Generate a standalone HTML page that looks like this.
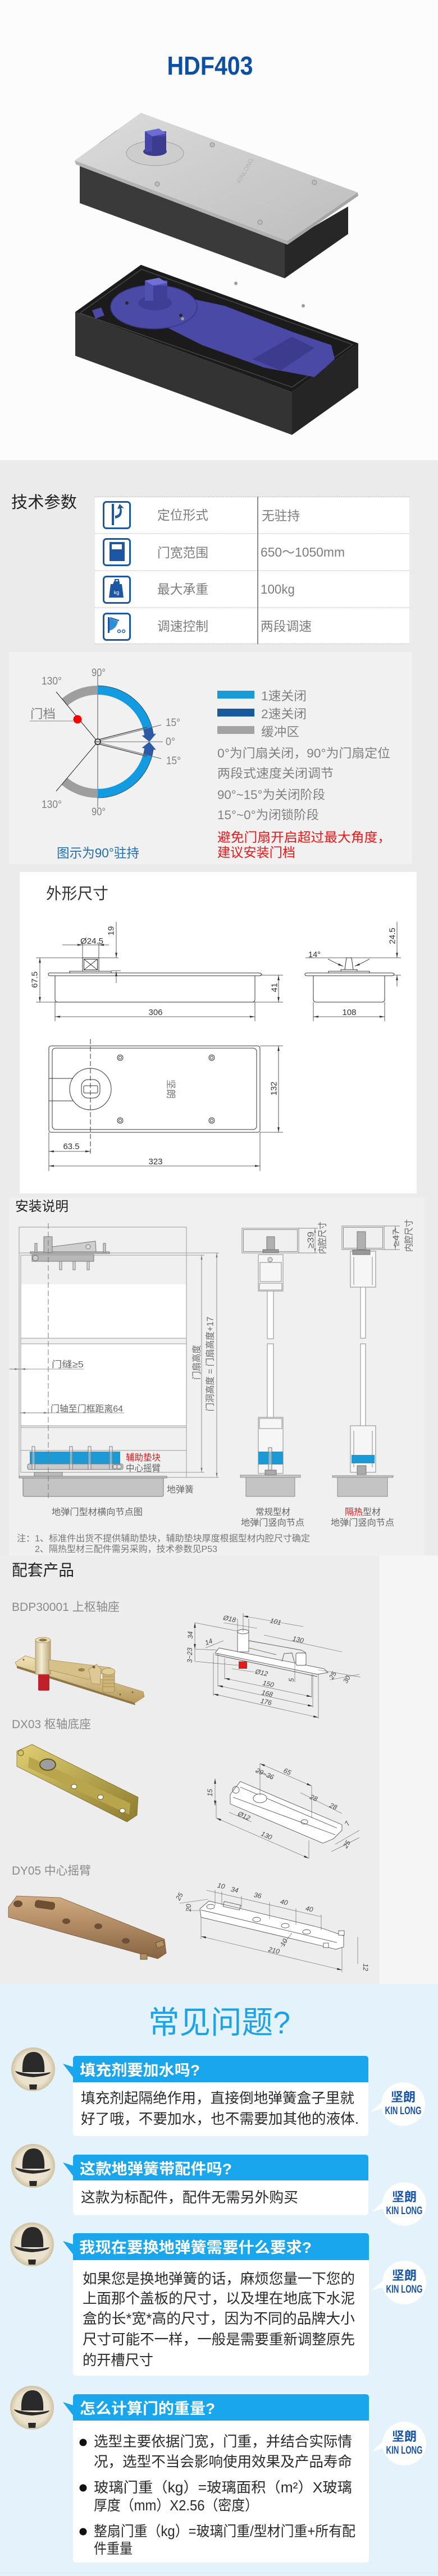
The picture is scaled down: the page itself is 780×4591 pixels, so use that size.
<!DOCTYPE html>
<html><head><meta charset="utf-8">
<style>
html,body{margin:0;padding:0;background:#ebebeb;}
svg{display:block}
text{font-family:"Liberation Sans","Noto Sans CJK SC",sans-serif;}
</style></head><body>
<svg width="780" height="4591" viewBox="0 0 780 4591" xmlns="http://www.w3.org/2000/svg">
<defs>
 <marker id="ar" viewBox="0 0 10 4" refX="10" refY="2" markerWidth="9" markerHeight="3.6" markerUnits="userSpaceOnUse" orient="auto-start-reverse"><path d="M0,0L10,2L0,4Z" fill="#333"/></marker>
 <marker id="ag" viewBox="0 0 10 4" refX="10" refY="2" markerWidth="8" markerHeight="3.2" markerUnits="userSpaceOnUse" orient="auto-start-reverse"><path d="M0,0L10,2L0,4Z" fill="#777"/></marker>
 <linearGradient id="plate" x1="0" y1="0" x2="1" y2="1"><stop offset="0" stop-color="#dcdcdc"/><stop offset="1" stop-color="#bdbdbd"/></linearGradient>
 <linearGradient id="brass" x1="0" y1="0" x2="0" y2="1"><stop offset="0" stop-color="#f1e3b6"/><stop offset="1" stop-color="#b79a5c"/></linearGradient>
 <linearGradient id="cyl" x1="0" y1="0" x2="1" y2="0"><stop offset="0" stop-color="#c9bb8c"/><stop offset="0.4" stop-color="#f2ecd4"/><stop offset="1" stop-color="#b8a574"/></linearGradient>
 <linearGradient id="olive" x1="0" y1="0" x2="1" y2="1"><stop offset="0" stop-color="#e0cf72"/><stop offset="1" stop-color="#8d7c2e"/></linearGradient>
 <linearGradient id="bronze" x1="0" y1="0" x2="0" y2="1"><stop offset="0" stop-color="#d2ac80"/><stop offset="1" stop-color="#876343"/></linearGradient>
 <radialGradient id="face" cx="0.5" cy="0.5" r="0.5"><stop offset="0.75" stop-color="#ebe2cd"/><stop offset="1" stop-color="#cfc2a2"/></radialGradient>
</defs>

<!-- ============ BACKGROUNDS ============ -->
<rect x="0" y="0" width="780" height="820" fill="#fcfcfc"/>
<rect x="0" y="820" width="780" height="2716" fill="#ebebeb"/>
<rect x="16" y="1162" width="718" height="378" fill="#f2f1f2"/>
<rect x="35" y="1554" width="707" height="573" fill="#ffffff"/>
<rect x="16" y="2135" width="740" height="637" fill="#f1f0f1"/>
<rect x="0" y="2772" width="676" height="764" fill="#eeeded"/>
<rect x="676" y="2772" width="104" height="764" fill="#f5f5f5"/>
<rect x="0" y="3536" width="780" height="1055" fill="#e3f2fb"/>

<!-- ============ HEADER ============ -->
<text x="374" y="133" text-anchor="middle" font-size="46" font-weight="bold" fill="#0d4fa2" textLength="153" lengthAdjust="spacingAndGlyphs">HDF403</text>

<!-- top box (lid) -->
<polygon points="142,296 507,434 507,496 142,362" fill="#3a3a3a"/>
<polygon points="507,434 620,368 620,417 507,496" fill="#272727"/>
<polygon points="133,286 512,429 512,436 135,293" fill="#b2b2b2"/>
<polygon points="512,429 637,343 638,349 512,436" fill="#a5a5a5"/>
<polygon points="133,286 251,201 637,343 512,429" fill="url(#plate)"/>
<line x1="177" y1="255" x2="209" y2="232" stroke="#aaa" stroke-width="1"/>
<line x1="177" y1="255" x2="512" y2="380" stroke="#d0d0d0" stroke-width="0.8" opacity="0.5"/>
<ellipse cx="276" cy="273" rx="51" ry="22" fill="#cdcdcd" stroke="#9e9e9e" stroke-width="1"/>
<ellipse cx="276" cy="270" rx="21" ry="8" fill="#3c3c8e"/>
<rect x="258" y="234" width="38" height="36" fill="#4747a6"/>
<polygon points="258,234 283,229 296,238 271,243" fill="#6c6cd2"/>
<rect x="271" y="243" width="25" height="27" fill="#3b3b90"/>
<g fill="#bdbdbd" stroke="#8a8a8a" stroke-width="1">
 <circle cx="378" cy="258" r="4"/><circle cx="280" cy="328" r="4"/><circle cx="560" cy="325" r="4"/><circle cx="463" cy="396" r="4"/>
</g>
<text x="423" y="330" font-size="11" fill="#b0b0b0" transform="rotate(-60 423 325)">KINLONG</text>

<!-- bottom box (open) -->
<polygon points="134,556 520,699 520,775 134,634" fill="#333"/>
<polygon points="520,699 638,612 638,691 520,775" fill="#252525"/>
<polygon points="134,556 251,472 638,612 520,699" fill="#1b1b1b"/>
<polyline points="142,558 252,480 628,614 520,690 142,558" fill="none" stroke="#444" stroke-width="1.5"/>
<polygon points="330,530 400,545 522,592 590,615 596,640 560,672 470,655 360,615 300,585" fill="#4a49a5"/>
<ellipse cx="274" cy="547" rx="77" ry="39" fill="#4b4aa6" stroke="#38378a" stroke-width="1.5"/>
<ellipse cx="276" cy="540" rx="30" ry="13" fill="#3f3e96"/>
<polygon points="164,553 180,548 186,562 170,568" fill="#4a49a5"/>
<rect x="258" y="500" width="40" height="36" fill="#5050b0"/>
<polygon points="258,500 283,495 298,504 273,509" fill="#6f6fd6"/>
<rect x="273" y="509" width="25" height="27" fill="#3f3f98"/>
<polygon points="450,640 520,600 560,620 500,660" fill="#3c3b8e"/>
<g fill="#2a2a2a"><circle cx="226" cy="540" r="3"/><circle cx="322" cy="562" r="3"/></g>
<g fill="#9a9a9a"><circle cx="420" cy="505" r="3"/><circle cx="540" cy="545" r="3"/><circle cx="325" cy="568" r="3"/></g>

<!-- ============ TECH PARAMS ============ -->
<text x="20" y="905" font-size="29" fill="#222" textLength="117" lengthAdjust="spacingAndGlyphs">技术参数</text>
<rect x="169" y="885" width="560" height="263" fill="#fff"/>
<g stroke="#bdbdbd" stroke-width="1" stroke-dasharray="2,1">
 <line x1="169" y1="885.5" x2="729" y2="885.5"/><line x1="169" y1="951" x2="729" y2="951"/>
 <line x1="169" y1="1017" x2="729" y2="1017"/><line x1="169" y1="1083" x2="729" y2="1083"/>
 <line x1="169" y1="1147.5" x2="729" y2="1147.5"/>
</g>
<line x1="459" y1="885" x2="459" y2="1148" stroke="#8a8a8a" stroke-width="2"/>
<g fill="none" stroke="#1c57a5" stroke-width="3">
 <rect x="184.5" y="894.5" width="47" height="47" rx="5"/>
 <rect x="184.5" y="960.5" width="47" height="47" rx="5"/>
 <rect x="184.5" y="1027.5" width="47" height="47" rx="5"/>
 <rect x="184.5" y="1093.5" width="47" height="47" rx="5"/>
</g>
<rect x="199" y="898" width="4" height="38" fill="#1c57a5"/>
<path d="M205,924 Q220,922 216,905 L221,906 L213,898 L209,907 L213,906 Q215,918 205,919Z" fill="#1c57a5"/>
<rect x="195" y="966" width="27" height="34" fill="#1c57a5"/>
<rect x="199" y="970" width="18" height="9" fill="#fff"/>
<path d="M203,1036 h10 v5 h4 l3,24 h-26 l3,-24 h4Z" fill="#1c57a5"/>
<rect x="205" y="1033" width="6" height="5" fill="none" stroke="#1c57a5" stroke-width="2"/>
<text x="207.5" y="1059" text-anchor="middle" font-size="9" fill="#fff">kg</text>
<rect x="192" y="1100" width="3" height="28" fill="#1c57a5"/>
<path d="M195,1102 L210,1107 Q208,1120 195,1124Z" fill="#2f8fd6"/>
<path d="M196,1101 L212,1106" stroke="#1c57a5" stroke-width="2"/>
<circle cx="212" cy="1125" r="2.5" fill="none" stroke="#1c57a5" stroke-width="1.5"/>
<circle cx="220" cy="1125" r="2.5" fill="none" stroke="#1c57a5" stroke-width="1.5"/>
<g font-size="23" fill="#7d7d7d">
 <text x="280" y="926" textLength="91" lengthAdjust="spacingAndGlyphs">定位形式</text>
 <text x="280" y="993" textLength="91" lengthAdjust="spacingAndGlyphs">门宽范围</text>
 <text x="280" y="1058" textLength="91" lengthAdjust="spacingAndGlyphs">最大承重</text>
 <text x="280" y="1124" textLength="91" lengthAdjust="spacingAndGlyphs">调速控制</text>
 <text x="466" y="927" textLength="68" lengthAdjust="spacingAndGlyphs">无驻持</text>
 <text x="464" y="992" textLength="150" lengthAdjust="spacingAndGlyphs">650～1050mm</text>
 <text x="464" y="1058" textLength="61" lengthAdjust="spacingAndGlyphs">100kg</text>
 <text x="464" y="1124" textLength="91" lengthAdjust="spacingAndGlyphs">两段调速</text>
</g>

<!-- ============ ANGLE DIAGRAM ============ -->
<line x1="174" y1="1203" x2="174" y2="1440" stroke="#8c8c8c" stroke-width="1.5"/>
<path d="M174,1222 A100,100 0 0 0 109.7,1245.4 L120,1257.7 A84,84 0 0 1 174,1238Z" fill="#9e9e9e"/>
<path d="M174,1222 A100,100 0 0 1 270.6,1296.1 L255.1,1300.3 A84,84 0 0 0 174,1238Z" fill="#139be2"/>
<path d="M270.6,1296.1 A100,100 0 0 1 273,1308.1 L278,1307.5 L266,1322 L252.5,1311 L257.2,1310.3 A84,84 0 0 0 255.1,1300.3Z" fill="#2b5aa9"/>
<path d="M174,1422 A100,100 0 0 1 109.7,1398.6 L120,1386.3 A84,84 0 0 0 174,1406Z" fill="#9e9e9e"/>
<path d="M174,1422 A100,100 0 0 0 270.6,1347.9 L255.1,1343.7 A84,84 0 0 1 174,1406Z" fill="#139be2"/>
<path d="M270.6,1347.9 A100,100 0 0 0 273,1335.9 L278,1336.5 L266,1322 L252.5,1333 L257.2,1333.7 A84,84 0 0 1 255.1,1343.7Z" fill="#2b5aa9"/>
<path d="M174,1222 A100,100 0 0 1 273,1308" fill="none" stroke="#333" stroke-width="0.8"/>
<path d="M174,1422 A100,100 0 0 0 273,1336" fill="none" stroke="#333" stroke-width="0.8"/>
<line x1="100" y1="1233" x2="174" y2="1322" stroke="#222" stroke-width="1"/>
<line x1="100" y1="1410" x2="174" y2="1322" stroke="#222" stroke-width="1"/>
<line x1="174" y1="1322" x2="290" y2="1322" stroke="#999" stroke-width="1.5"/>
<line x1="174" y1="1321" x2="287" y2="1292" stroke="#666" stroke-width="1"/>
<line x1="176" y1="1318" x2="262" y2="1296" stroke="#555" stroke-width="1.5"/>
<line x1="174" y1="1323" x2="287" y2="1352" stroke="#666" stroke-width="1"/>
<line x1="176" y1="1326" x2="262" y2="1348" stroke="#555" stroke-width="1.5"/>
<circle cx="174" cy="1322" r="5" fill="#ddd" stroke="#222" stroke-width="1.5"/>
<line x1="169" y1="1322" x2="179" y2="1322" stroke="#222" stroke-width="1"/>
<line x1="53" y1="1285" x2="130" y2="1285" stroke="#888" stroke-width="1"/>
<circle cx="138" cy="1282" r="7.5" fill="#f00"/>
<g font-size="19" fill="#808080">
 <text x="163" y="1205" textLength="25" lengthAdjust="spacingAndGlyphs">90°</text>
 <text x="74" y="1220" textLength="36" lengthAdjust="spacingAndGlyphs">130°</text>
 <text x="295" y="1294" textLength="26" lengthAdjust="spacingAndGlyphs">15°</text>
 <text x="295" y="1328" textLength="17" lengthAdjust="spacingAndGlyphs">0°</text>
 <text x="296" y="1362" textLength="26" lengthAdjust="spacingAndGlyphs">15°</text>
 <text x="74" y="1440" textLength="36" lengthAdjust="spacingAndGlyphs">130°</text>
 <text x="163" y="1453" textLength="25" lengthAdjust="spacingAndGlyphs">90°</text>
</g>
<text x="54" y="1280" font-size="22" fill="#808080" textLength="45" lengthAdjust="spacingAndGlyphs">门档</text>
<text x="101" y="1528" font-size="23" fill="#1f6db5" textLength="147" lengthAdjust="spacingAndGlyphs">图示为90°驻持</text>
<rect x="387" y="1231" width="66" height="14" fill="#1b9ad8"/>
<rect x="387" y="1263" width="66" height="14" fill="#1a5a9c"/>
<rect x="387" y="1294" width="66" height="14" fill="#a3a3a3"/>
<g font-size="22" fill="#808080">
 <text x="465" y="1248" textLength="81" lengthAdjust="spacingAndGlyphs">1速关闭</text>
 <text x="465" y="1280" textLength="81" lengthAdjust="spacingAndGlyphs">2速关闭</text>
 <text x="465" y="1312" textLength="68" lengthAdjust="spacingAndGlyphs">缓冲区</text>
 <text x="387" y="1350" textLength="308" lengthAdjust="spacingAndGlyphs">0°为门扇关闭，90°为门扇定位</text>
 <text x="387" y="1386" textLength="207" lengthAdjust="spacingAndGlyphs">两段式速度关闭调节</text>
 <text x="387" y="1424" textLength="192" lengthAdjust="spacingAndGlyphs">90°~15°为关闭阶段</text>
 <text x="387" y="1460" textLength="181" lengthAdjust="spacingAndGlyphs">15°~0°为闭锁阶段</text>
</g>
<text x="387" y="1500" font-size="23" fill="#f01515" textLength="309" lengthAdjust="spacingAndGlyphs">避免门扇开启超过最大角度，</text>
<text x="387" y="1527" font-size="23" fill="#f01515" textLength="139" lengthAdjust="spacingAndGlyphs">建议安装门档</text>

<!-- ============ DIMENSIONS ============ -->
<text x="82" y="1602" font-size="28" fill="#333" textLength="111" lengthAdjust="spacingAndGlyphs">外形尺寸</text>
<g stroke="#333" stroke-width="1" fill="none">
 <path d="M89,1734 H460 Q466,1734 466,1737.5 L463,1739 H89 Q86,1739 86,1736.5 Q86,1734 89,1734Z"/>
 <path d="M98,1739 V1781 Q98,1786 103,1786 H449 Q454,1786 454,1781 V1739"/>
 <rect x="124" y="1731" width="74" height="3"/>
 <rect x="147" y="1707" width="29" height="24"/>
 <rect x="149.5" y="1709.5" width="24" height="19"/>
 <path d="M149.5,1709.5 L173.5,1728.5 M173.5,1709.5 L149.5,1728.5"/>
 <path d="M547,1734 H697 Q702,1734 702,1737 L699,1739 H547 Q543,1739 543,1736.5 Q543,1734 547,1734Z"/>
 <path d="M558,1739 V1781 Q558,1786 563,1786 H680 Q685,1786 685,1781 V1739"/>
 <rect x="585" y="1731" width="73" height="3"/>
 <rect x="607" y="1728" width="29" height="3"/>
 <path d="M614,1728 L617,1707 H626 L629,1728"/>
 <path d="M584,1709 Q596,1716 611,1722" marker-end="url(#ar)"/>
 <path d="M658,1709 Q646,1716 632,1722" marker-end="url(#ar)"/>
 <rect x="87" y="1864" width="376" height="154" rx="4"/>
 <rect x="93" y="1868" width="364" height="145" rx="6"/>
 <path d="M87,1922 H130 M87,1962 H130"/>
 <circle cx="161" cy="1941" r="37"/>
 <rect x="145" y="1924" width="33" height="33" rx="12"/>
 <rect x="149" y="1935" width="25" height="13" rx="2"/>
 <circle cx="214" cy="1885" r="5"/><circle cx="377" cy="1885" r="5"/><circle cx="214" cy="1997" r="5"/><circle cx="377" cy="1997" r="5"/>
 <circle cx="214" cy="1885" r="2.5"/><circle cx="377" cy="1885" r="2.5"/><circle cx="214" cy="1997" r="2.5"/><circle cx="377" cy="1997" r="2.5"/>
</g>
<line x1="161" y1="1852" x2="161" y2="2060" stroke="#333" stroke-width="1" stroke-dasharray="9,4"/>
<g stroke="#333" stroke-width="0.8" fill="none">
 <path d="M64,1707 H211 M198,1730 H215 M64,1786 H504 M463,1738 H504 M98,1786 V1820 M454,1786 V1820 M147,1680 V1707 M176,1680 V1707"/>
 <path d="M544,1707 H714 M700,1738 H714 M558,1786 V1820 M685,1786 V1820"/>
 <path d="M463,1864 H504 M463,2018 H504 M87,2018 V2087 M463,2018 V2087"/>
 <line x1="111" y1="1684" x2="147" y2="1684" marker-end="url(#ar)"/>
 <line x1="194" y1="1684" x2="176" y2="1684" marker-end="url(#ar)"/>
 <line x1="147" y1="1684" x2="176" y2="1684"/>
 <line x1="207" y1="1643" x2="207" y2="1707" marker-end="url(#ar)"/>
 <line x1="207" y1="1752" x2="207" y2="1731" marker-end="url(#ar)"/>
 <line x1="71" y1="1707" x2="71" y2="1786" marker-start="url(#ar)" marker-end="url(#ar)"/>
 <line x1="496" y1="1738" x2="496" y2="1786" marker-start="url(#ar)" marker-end="url(#ar)"/>
 <line x1="98" y1="1812" x2="454" y2="1812" marker-start="url(#ar)" marker-end="url(#ar)"/>
 <line x1="707" y1="1643" x2="707" y2="1707" marker-end="url(#ar)"/>
 <line x1="707" y1="1758" x2="707" y2="1738" marker-end="url(#ar)"/>
 <line x1="558" y1="1812" x2="685" y2="1812" marker-start="url(#ar)" marker-end="url(#ar)"/>
 <line x1="496" y1="1864" x2="496" y2="2018" marker-start="url(#ar)" marker-end="url(#ar)"/>
 <line x1="87" y1="2052" x2="161" y2="2052" marker-start="url(#ar)" marker-end="url(#ar)"/>
 <line x1="87" y1="2078" x2="463" y2="2078" marker-start="url(#ar)" marker-end="url(#ar)"/>
</g>
<g font-size="15" fill="#333">
 <text x="143" y="1682" textLength="41" lengthAdjust="spacingAndGlyphs">Ø24.5</text>
 <text transform="translate(198,1659) rotate(-90)" text-anchor="middle" dominant-baseline="central">19</text>
 <text transform="translate(62,1746) rotate(-90)" text-anchor="middle" dominant-baseline="central">67.5</text>
 <text transform="translate(489,1760) rotate(-90)" text-anchor="middle" dominant-baseline="central">41</text>
 <text x="277" y="1809" text-anchor="middle" textLength="25" lengthAdjust="spacingAndGlyphs">306</text>
 <text x="549" y="1706" textLength="22" lengthAdjust="spacingAndGlyphs">14°</text>
 <text transform="translate(699,1668) rotate(-90)" text-anchor="middle" dominant-baseline="central">24.5</text>
 <text x="622" y="1809" text-anchor="middle" textLength="25" lengthAdjust="spacingAndGlyphs">108</text>
 <text transform="translate(488,1940) rotate(-90)" text-anchor="middle" dominant-baseline="central">132</text>
 <text x="127" y="2048" text-anchor="middle" textLength="29" lengthAdjust="spacingAndGlyphs">63.5</text>
 <text x="277" y="2075" text-anchor="middle" textLength="25" lengthAdjust="spacingAndGlyphs">323</text>
</g>
<text transform="translate(304,1941) rotate(90)" text-anchor="middle" dominant-baseline="central" font-size="17" fill="#777">坚朗</text>

<!-- ============ INSTALL ============ -->
<text x="27" y="2158" font-size="24" fill="#222" textLength="95" lengthAdjust="spacingAndGlyphs">安装说明</text>
<rect x="37" y="2289" width="295" height="96" fill="#fff"/>
<rect x="37" y="2395" width="295" height="146" fill="#fff"/>
<g stroke="#9a9a9a" stroke-width="1" fill="none">
 <rect x="34" y="2187" width="298" height="446"/>
 <line x1="34" y1="2233" x2="390" y2="2233"/>
 <rect x="37" y="2237" width="295" height="387"/>
 <line x1="37" y1="2385" x2="332" y2="2385"/><line x1="37" y1="2395" x2="332" y2="2395"/>
 <line x1="37" y1="2541" x2="332" y2="2541"/><line x1="37" y1="2544" x2="332" y2="2544"/>
 <line x1="37" y1="2585" x2="332" y2="2585"/>
 <line x1="332" y1="2237" x2="364" y2="2237"/><line x1="332" y1="2624" x2="364" y2="2624"/>
 <line x1="332" y1="2633" x2="390" y2="2633"/>
</g>
<g stroke="#777" stroke-width="1">
 <rect x="54" y="2231" width="141" height="3" fill="#b5b5b5"/>
 <rect x="78" y="2204" width="15" height="28" fill="#bdbdbd"/>
 <polygon points="93,2222 170,2212 171,2231 93,2231" fill="#cfcfcf"/>
 <rect x="62" y="2216" width="4" height="16" fill="#ccc"/><rect x="184" y="2216" width="4" height="16" fill="#ccc"/>
 <circle cx="157" cy="2222" r="4" fill="#ddd"/>
 <rect x="57" y="2236" width="110" height="12" fill="#b8b8b8"/>
 <circle cx="63" cy="2242" r="5" fill="#ccc"/>
 <rect x="106" y="2248" width="4" height="15" fill="#ddd"/><rect x="130" y="2248" width="4" height="15" fill="#ddd"/><rect x="155" y="2248" width="4" height="15" fill="#ddd"/>
</g>
<rect x="53" y="2587" width="161" height="22" fill="#1b9ad6"/>
<g stroke="#777" stroke-width="1">
 <rect x="49" y="2609" width="170" height="10" rx="3" fill="#c9c9c9"/>
 <rect x="57" y="2578" width="5" height="41" fill="#eee" fill-opacity="0.4"/><rect x="124" y="2578" width="5" height="41" fill="#eee" fill-opacity="0.4"/>
 <rect x="157" y="2578" width="5" height="41" fill="#eee" fill-opacity="0.4"/><rect x="195" y="2578" width="5" height="41" fill="#eee" fill-opacity="0.4"/>
 <circle cx="205" cy="2614" r="4" fill="#ddd"/><circle cx="212" cy="2614" r="4" fill="#ddd"/>
 <rect x="61" y="2624" width="50" height="7" fill="#bbb"/>
 <rect x="34" y="2631" width="263" height="3" fill="#ccc"/>
 <path d="M41,2634 H291 V2664 Q291,2667 288,2667 H44 Q41,2667 41,2664Z" fill="#c4c4c4"/>
</g>
<line x1="86" y1="2180" x2="86" y2="2675" stroke="#777" stroke-width="1" stroke-dasharray="10,5"/>
<g stroke="#777" stroke-width="0.8" fill="none">
 <line x1="16" y1="2440" x2="149" y2="2440"/>
 <line x1="18" y1="2440" x2="34" y2="2440" marker-end="url(#ag)"/>
 <line x1="50" y1="2440" x2="37" y2="2440" marker-end="url(#ag)"/>
 <line x1="35" y1="2518" x2="221" y2="2518"/>
 <line x1="60" y1="2518" x2="37" y2="2518" marker-end="url(#ag)"/>
 <line x1="60" y1="2518" x2="86" y2="2518" marker-end="url(#ag)"/>
 <line x1="359" y1="2237" x2="359" y2="2624" marker-start="url(#ag)" marker-end="url(#ag)"/>
 <line x1="386" y1="2233" x2="386" y2="2633" marker-start="url(#ag)" marker-end="url(#ag)"/>
</g>
<g font-size="16" fill="#666">
 <text x="92" y="2437" textLength="57" lengthAdjust="spacingAndGlyphs">门缝≥5</text>
 <text x="90" y="2516" textLength="129" lengthAdjust="spacingAndGlyphs">门轴至门框距离64</text>
 <text x="224" y="2622" textLength="62" lengthAdjust="spacingAndGlyphs">中心摇臂</text>
 <text x="297" y="2660" textLength="48" lengthAdjust="spacingAndGlyphs">地弹簧</text>
 <text x="92" y="2700" textLength="162" lengthAdjust="spacingAndGlyphs">地弹门型材横向节点图</text>
 <text transform="translate(351,2428) rotate(-90)" text-anchor="middle" dominant-baseline="central" textLength="62" lengthAdjust="spacingAndGlyphs">门扇高度</text>
 <text transform="translate(375,2431) rotate(-90)" text-anchor="middle" dominant-baseline="central" textLength="169" lengthAdjust="spacingAndGlyphs">门洞高度 = 门扇高度+17</text>
 <text x="455" y="2700" textLength="62" lengthAdjust="spacingAndGlyphs">常规型材</text>
 <text x="429" y="2719" textLength="113" lengthAdjust="spacingAndGlyphs">地弹门竖向节点</text>
 <text x="614" y="2700" textLength="64" lengthAdjust="spacingAndGlyphs"><tspan fill="#f01515">隔热</tspan>型材</text>
 <text x="589" y="2719" textLength="113" lengthAdjust="spacingAndGlyphs">地弹门竖向节点</text>
 <text transform="translate(554,2210) rotate(-90)" text-anchor="middle" dominant-baseline="central" textLength="30" lengthAdjust="spacingAndGlyphs">≥39</text>
 <text transform="translate(575,2206) rotate(-90)" text-anchor="middle" dominant-baseline="central" textLength="58" lengthAdjust="spacingAndGlyphs">内腔尺寸</text>
 <text transform="translate(706,2206) rotate(-90)" text-anchor="middle" dominant-baseline="central" textLength="30" lengthAdjust="spacingAndGlyphs">≥47</text>
 <text transform="translate(729,2202) rotate(-90)" text-anchor="middle" dominant-baseline="central" textLength="58" lengthAdjust="spacingAndGlyphs">内腔尺寸</text>
</g>
<text x="224" y="2603" font-size="16" fill="#f01515" textLength="62" lengthAdjust="spacingAndGlyphs">辅助垫块</text>
<g stroke="#8a8a8a" stroke-width="1" fill="none">
 <rect x="431" y="2189" width="101" height="44"/><rect x="433.5" y="2191.5" width="96" height="39"/>
 <path d="M532,2189 H566 M532,2233 H566"/>
 <rect x="460" y="2236" width="44" height="65" fill="#f6f6f6"/>
 <rect x="463" y="2250" width="38" height="34"/>
 <rect x="462" y="2287" width="40" height="12"/>
 <rect x="476" y="2301" width="11" height="85" fill="#fff"/>
 <rect x="476" y="2395" width="11" height="131" fill="#fff"/>
 <rect x="460" y="2526" width="44" height="100" fill="#f6f6f6"/>
 <rect x="462" y="2528" width="40" height="18"/>
 <rect x="438" y="2633" width="87" height="34" fill="#c4c4c4"/>
 <rect x="428" y="2629" width="107" height="4" fill="#ccc"/>
</g>
<rect x="460" y="2587" width="44" height="23" fill="#1b9ad6"/>
<g stroke="#777" stroke-width="1">
 <rect x="475" y="2204" width="14" height="24" fill="#b0b0b0"/>
 <rect x="468" y="2227" width="28" height="6" fill="#999"/>
 <circle cx="481" cy="2245" r="4" fill="#ddd"/>
 <rect x="478" y="2580" width="6" height="42" fill="#ddd" fill-opacity="0.5"/>
 <rect x="472" y="2620" width="20" height="9" fill="#aaa"/>
</g>
<line x1="561" y1="2189" x2="561" y2="2233" stroke="#777" stroke-width="0.8" marker-start="url(#ag)" marker-end="url(#ag)"/>
<g stroke="#8a8a8a" stroke-width="1" fill="none">
 <rect x="609" y="2185" width="75" height="42"/><rect x="611.5" y="2187.5" width="70" height="37"/>
 <path d="M684,2185 H712 M684,2227 H712"/>
 <rect x="624" y="2230" width="45" height="64" fill="#f6f6f6"/>
 <path d="M630,2240 V2290 M663,2240 V2290"/>
 <rect x="642" y="2294" width="9" height="91" fill="#fff"/>
 <rect x="642" y="2395" width="9" height="146" fill="#fff"/>
 <rect x="624" y="2541" width="45" height="83" fill="#f6f6f6"/>
 <path d="M630,2550 V2615 M663,2550 V2615"/>
 <rect x="601" y="2633" width="89" height="34" fill="#c4c4c4"/>
 <rect x="592" y="2630" width="108" height="3" fill="#ccc"/>
</g>
<rect x="626" y="2593" width="41" height="15" fill="#1b9ad6"/>
<g stroke="#777" stroke-width="1">
 <rect x="636" y="2195" width="15" height="32" fill="#b0b0b0"/>
 <rect x="628" y="2228" width="31" height="8" fill="#999"/>
 <rect x="636" y="2612" width="16" height="16" fill="#aaa"/>
</g>
<line x1="704" y1="2185" x2="704" y2="2227" stroke="#777" stroke-width="0.8" marker-start="url(#ag)" marker-end="url(#ag)"/>
<g font-size="16" fill="#777">
 <text x="30" y="2747" textLength="522" lengthAdjust="spacingAndGlyphs">注：1、标准件出货不提供辅助垫块，辅助垫块厚度根据型材内腔尺寸确定</text>
 <text x="62" y="2766" textLength="325" lengthAdjust="spacingAndGlyphs">2、隔热型材三配件需另采购，技术参数见P53</text>
</g>

<!-- ============ ACCESSORIES ============ -->
<text x="21" y="2808" font-size="28" fill="#222" textLength="111" lengthAdjust="spacingAndGlyphs">配套产品</text>
<g font-size="21" fill="#8a8a8a">
 <text x="21" y="2871" textLength="192" lengthAdjust="spacingAndGlyphs">BDP30001 上枢轴座</text>
 <text x="21" y="3080" textLength="141" lengthAdjust="spacingAndGlyphs">DX03 枢轴底座</text>
 <text x="21" y="3341" textLength="141" lengthAdjust="spacingAndGlyphs">DY05 中心摇臂</text>
</g>
<!-- photo 1 -->
<polygon points="27,2963 45,2951 255,3015 257,3024 240,3035 30,2969" fill="url(#brass)" stroke="#a88d55" stroke-width="0.8"/>
<polygon points="30,2969 240,3035 241,3039 30,2973" fill="#8f7645"/>
<circle cx="42" cy="2958" r="1.5" fill="#7a6238"/><circle cx="236" cy="3016" r="1.5" fill="#7a6238"/><circle cx="214" cy="3020" r="1.5" fill="#7a6238"/>
<rect x="68" y="2984" width="20" height="29" rx="2" fill="#c0202a"/>
<rect x="63" y="2923" width="27" height="61" fill="url(#cyl)" stroke="#a88d55" stroke-width="0.8"/>
<ellipse cx="76.5" cy="2923" rx="13.5" ry="5" fill="#e6dcb6" stroke="#a88d55" stroke-width="0.8"/>
<ellipse cx="76.5" cy="2923" rx="7" ry="2.5" fill="#8f7645"/>
<polygon points="87,2958 197,2972 190,2979 157,2993 87,2976" fill="#d6c188" stroke="#a88d55" stroke-width="0.8"/>
<ellipse cx="145" cy="2976" rx="6" ry="3" fill="#9b834d"/>
<polygon points="158,2975 172,2966 180,2975 178,3002 163,3000" fill="#dcc996" stroke="#a88d55" stroke-width="0.8"/>
<circle cx="167" cy="2971" r="2.5" fill="#7a6238"/>
<rect x="183" y="2980" width="21" height="36" rx="3" fill="#cdb57a" stroke="#9b834d" stroke-width="0.8"/>
<path d="M184,2988 H203 M184,2994 H203 M184,3000 H203 M184,3006 H203" stroke="#9b834d" stroke-width="0.8"/>
<ellipse cx="193" cy="2979" rx="12" ry="6" fill="#e0cc95" stroke="#9b834d" stroke-width="0.8"/>
<!-- photo 2 -->
<polygon points="30,3121 57,3109 246,3203 244,3235 226,3247 30,3148" fill="url(#olive)" stroke="#7d6e2a" stroke-width="0.8"/>
<polygon points="52,3131 232,3214 230,3234 50,3150" fill="#b9a54c"/>
<ellipse cx="85" cy="3145" rx="14" ry="10" fill="#9e9e9e" stroke="#5d5420" stroke-width="2"/>
<ellipse cx="132" cy="3184" rx="5" ry="4" fill="#fff" stroke="#6d6024"/>
<ellipse cx="179" cy="3203" rx="5" ry="4" fill="#fff" stroke="#6d6024"/>
<ellipse cx="218" cy="3227" rx="5" ry="4" fill="#fff" stroke="#6d6024"/>
<circle cx="37" cy="3124" r="5" fill="#d8c36c" stroke="#6d6024"/>
<!-- photo 3 -->
<polygon points="15,3399 30,3379 107,3382 293,3456 296,3481 281,3491 15,3417" fill="url(#bronze)" stroke="#7a5a3a" stroke-width="0.8"/>
<rect x="62" y="3388" width="36" height="14" rx="5" fill="#6e4f33" transform="rotate(8 80 3395)"/>
<ellipse cx="32" cy="3393" rx="8" ry="6" fill="#6e4f33"/>
<ellipse cx="118" cy="3424" rx="7" ry="5" fill="#6e4f33"/>
<ellipse cx="175" cy="3433" rx="7" ry="5" fill="#6e4f33"/>
<ellipse cx="224" cy="3459" rx="7" ry="5" fill="#6e4f33"/>
<rect x="278" y="3460" width="14" height="10" fill="#b09060" stroke="#6e4f33" transform="rotate(-20 285 3465)"/>
<rect x="250" y="3482" width="12" height="10" fill="#b09060" stroke="#6e4f33"/>

<!-- drawing 1 -->
<g stroke="#555" stroke-width="0.9" fill="none">
 <polygon points="383,2946 390,2937 577,2974 584,2981 565,2984" fill="#fff"/>
 <line x1="383" y1="2949" x2="565" y2="2988"/>
 <rect x="423" y="2908" width="20" height="36" fill="#fff"/>
 <ellipse cx="433" cy="2908" rx="10" ry="4" fill="#fff"/>
 <path d="M443,2924 L537,2941 L545,2946 M443,2937 L492,2949"/>
 <path d="M502,2961 L506,2947 L520,2946 L524,2961"/>
 <rect x="527" y="2946" width="18" height="22" rx="3" fill="#fff"/>
</g>
<rect x="425" y="2961" width="15" height="13" fill="#e31b1b"/>
<g stroke="#555" stroke-width="0.6" fill="none">
 <path d="M347,2892 L423,2907 M347,2939 L388,2941 M347,2961 L425,2968 M380,2946 V3022 M388,2946 V3006 M400,2955 V2993 M555,2984 V3026 M557,2984 V3043 M567,2984 V3063 M525,2960 V2998 M423,2885 V2908 M443,2885 V2908 M433,2875 V2908"/>
 <line x1="380" y1="3019" x2="567" y2="3061" marker-start="url(#ar)" marker-end="url(#ar)"/>
 <line x1="388" y1="3004" x2="557" y2="3041" marker-start="url(#ar)" marker-end="url(#ar)"/>
 <line x1="400" y1="2991" x2="555" y2="3024" marker-start="url(#ar)" marker-end="url(#ar)"/>
 <line x1="413" y1="2974" x2="453" y2="2980"/>
 <line x1="470" y1="2914" x2="609" y2="2944"/>
 <line x1="433" y1="2880" x2="540" y2="2899" marker-start="url(#ar)"/>
 <line x1="398" y1="2892" x2="458" y2="2902"/>
 <line x1="366" y1="2937" x2="398" y2="2924"/>
 <line x1="347" y1="2892" x2="347" y2="2939" marker-start="url(#ar)" marker-end="url(#ar)"/>
 <line x1="347" y1="2939" x2="347" y2="2961"/>
 <line x1="567" y1="2976" x2="642" y2="2989"/>
 <line x1="587" y1="2994" x2="640" y2="2984"/>
</g>
<g font-size="12" fill="#444" font-style="italic">
 <text transform="translate(408,2889) rotate(12)" text-anchor="middle">Ø18</text>
 <text transform="translate(490,2894) rotate(12)" text-anchor="middle">101</text>
 <text transform="translate(530,2926) rotate(12)" text-anchor="middle">130</text>
 <text transform="translate(373,2930) rotate(-20)" text-anchor="middle">14</text>
 <text transform="translate(343,2914) rotate(-90)" text-anchor="middle">34</text>
 <text transform="translate(342,2950) rotate(-90)" text-anchor="middle">3~23</text>
 <text transform="translate(465,2985) rotate(12)" text-anchor="middle">Ø12</text>
 <text transform="translate(523,2994) rotate(-90)" text-anchor="middle">5</text>
 <text transform="translate(477,3005) rotate(12)" text-anchor="middle">150</text>
 <text transform="translate(475,3022) rotate(12)" text-anchor="middle">168</text>
 <text transform="translate(473,3037) rotate(12)" text-anchor="middle">176</text>
 <text transform="translate(596,2988) rotate(-60)" text-anchor="middle">25</text>
 <text transform="translate(621,2995) rotate(-60)" text-anchor="middle">30</text>
</g>
<!-- drawing 2 -->
<g stroke="#555" stroke-width="0.9" fill="none">
 <polygon points="410,3198 428,3175 609,3252 609,3262 594,3277 575,3285 410,3215" fill="#fff"/>
 <line x1="415" y1="3203" x2="597" y2="3270"/>
 <line x1="428" y1="3185" x2="600" y2="3258"/>
 <ellipse cx="463" cy="3205" rx="12" ry="8" fill="#fff"/>
 <ellipse cx="542" cy="3247" rx="6" ry="4"/>
 <circle cx="420" cy="3190" r="6"/>
</g>
<g stroke="#555" stroke-width="0.6" fill="none">
 <line x1="463" y1="3143" x2="555" y2="3183" marker-start="url(#ar)" marker-end="url(#ar)"/>
 <line x1="455" y1="3155" x2="485" y2="3170"/>
 <line x1="383" y1="3170" x2="383" y2="3218" marker-start="url(#ar)" marker-end="url(#ar)"/>
 <line x1="535" y1="3195" x2="609" y2="3232"/>
 <line x1="408" y1="3230" x2="448" y2="3247"/>
 <line x1="385" y1="3240" x2="550" y2="3312" marker-start="url(#ar)" marker-end="url(#ar)"/>
 <line x1="597" y1="3287" x2="640" y2="3262"/>
 <line x1="590" y1="3300" x2="640" y2="3275"/>
 <path d="M463,3143 V3200 M555,3183 V3240 M385,3240 V3210 M550,3312 V3280"/>
</g>
<g font-size="12" fill="#444" font-style="italic">
 <text transform="translate(510,3161) rotate(24)" text-anchor="middle">65</text>
 <text transform="translate(470,3165) rotate(24)" text-anchor="middle">29~36</text>
 <text transform="translate(378,3195) rotate(-90)" text-anchor="middle">15</text>
 <text transform="translate(557,3208) rotate(24)" text-anchor="middle">28</text>
 <text transform="translate(592,3223) rotate(24)" text-anchor="middle">28</text>
 <text transform="translate(433,3240) rotate(24)" text-anchor="middle">Ø12</text>
 <text transform="translate(622,3252) rotate(-60)" text-anchor="middle">7</text>
 <text transform="translate(473,3275) rotate(24)" text-anchor="middle">130</text>
 <text transform="translate(621,3289) rotate(-60)" text-anchor="middle">25</text>
</g>
<!-- drawing 3 -->
<g stroke="#555" stroke-width="0.9" fill="none">
 <polygon points="356,3402 372,3388 560,3433 575,3437 612,3450 612,3470 598,3474 565,3466 358,3417" fill="#fff"/>
 <line x1="358" y1="3404" x2="600" y2="3462"/>
 <ellipse cx="375" cy="3398" rx="7" ry="4"/>
 <rect x="398" y="3392" width="30" height="9" transform="rotate(13 413 3396)"/>
 <ellipse cx="457" cy="3421" rx="7" ry="4"/>
 <ellipse cx="508" cy="3432" rx="7" ry="4"/>
 <ellipse cx="546" cy="3443" rx="7" ry="4"/>
 <rect x="603" y="3441" width="10" height="8" fill="#fff"/>
 <rect x="576" y="3463" width="9" height="8" fill="#fff"/>
</g>
<g stroke="#555" stroke-width="0.6" fill="none">
 <line x1="368" y1="3369" x2="572" y2="3416"/>
 <path d="M383,3368 V3396 M395,3371 V3395 M430,3379 V3400 M480,3390 V3420 M527,3401 V3430 M572,3412 V3440"/>
 <line x1="358" y1="3451" x2="609" y2="3511" marker-start="url(#ar)" marker-end="url(#ar)"/>
 <path d="M358,3417 V3456 M609,3471 V3515 M637,3452 V3500"/>
 <line x1="320" y1="3392" x2="370" y2="3385"/>
 <line x1="330" y1="3405" x2="356" y2="3405"/>
 <line x1="500" y1="3470" x2="520" y2="3445"/>
</g>
<g font-size="12" fill="#444" font-style="italic">
 <text transform="translate(393,3365) rotate(12)" text-anchor="middle">10</text>
 <text transform="translate(417,3372) rotate(12)" text-anchor="middle">34</text>
 <text transform="translate(458,3382) rotate(12)" text-anchor="middle">36</text>
 <text transform="translate(505,3394) rotate(12)" text-anchor="middle">40</text>
 <text transform="translate(550,3406) rotate(12)" text-anchor="middle">40</text>
 <text transform="translate(323,3382) rotate(-60)" text-anchor="middle">25</text>
 <text transform="translate(340,3400) rotate(-90)" text-anchor="middle">20</text>
 <text transform="translate(509,3464) rotate(-60)" text-anchor="middle">10</text>
 <text transform="translate(487,3480) rotate(13)" text-anchor="middle">210</text>
 <text transform="translate(647,3506) rotate(90)" text-anchor="middle">12</text>
</g>

<!-- ============ FAQ ============ -->
<text x="264" y="3624" font-size="56" fill="#1ca2e6" textLength="253" lengthAdjust="spacingAndGlyphs">常见问题?</text>

<rect x="130" y="3664" width="526" height="143" rx="6" fill="#fff"/>
<path d="M136,3664 H650 Q656,3664 656,3670 V3711 H130 V3670 Q130,3664 136,3664Z" fill="#19a6ec"/>
<polygon points="112,3678 131,3684 131,3703" fill="#19a6ec"/>
<text x="142" y="3699" font-size="27" font-weight="bold" fill="#fff" textLength="214" lengthAdjust="spacingAndGlyphs">填充剂要加水吗?</text>
<g font-size="25.5" fill="#2a2a2a">
 <text x="144" y="3748" textLength="487" lengthAdjust="spacingAndGlyphs">填充剂起隔绝作用，直接倒地弹簧盒子里就</text>
 <text x="144" y="3785" textLength="495" lengthAdjust="spacingAndGlyphs">好了哦，不要加水，也不需要加其他的液体.</text>
</g>
<rect x="130" y="3840" width="526" height="108" rx="6" fill="#fff"/>
<path d="M136,3840 H650 Q656,3840 656,3846 V3886 H130 V3846 Q130,3840 136,3840Z" fill="#19a6ec"/>
<polygon points="112,3854 131,3860 131,3879" fill="#19a6ec"/>
<text x="142" y="3875" font-size="27" font-weight="bold" fill="#fff" textLength="271" lengthAdjust="spacingAndGlyphs">这款地弹簧带配件吗?</text>
<text x="144" y="3925" font-size="25.5" fill="#2a2a2a" textLength="387" lengthAdjust="spacingAndGlyphs">这款为标配件，配件无需另外购买</text>
<rect x="130" y="3980" width="527" height="254" rx="6" fill="#fff"/>
<path d="M136,3980 H651 Q657,3980 657,3986 V4028 H130 V3986 Q130,3980 136,3980Z" fill="#19a6ec"/>
<polygon points="112,3994 131,4000 131,4019" fill="#19a6ec"/>
<text x="141" y="4015" font-size="27" font-weight="bold" fill="#fff" textLength="414" lengthAdjust="spacingAndGlyphs">我现在要换地弹簧需要什么要求?</text>
<g font-size="25.5" fill="#2a2a2a">
 <text x="147" y="4070" textLength="485" lengthAdjust="spacingAndGlyphs">如果您是换地弹簧的话，麻烦您量一下您的</text>
 <text x="147" y="4105" textLength="485" lengthAdjust="spacingAndGlyphs">上面那个盖板的尺寸，以及埋在地底下水泥</text>
 <text x="147" y="4141" textLength="485" lengthAdjust="spacingAndGlyphs">盒的长*宽*高的尺寸，因为不同的品牌大小</text>
 <text x="147" y="4178" textLength="485" lengthAdjust="spacingAndGlyphs">尺寸可能不一样，一般是需要重新调整原先</text>
 <text x="147" y="4215" textLength="126" lengthAdjust="spacingAndGlyphs">的开槽尺寸</text>
</g>
<rect x="130" y="4267" width="527" height="300" rx="6" fill="#fff"/>
<path d="M136,4267 H651 Q657,4267 657,4273 V4314 H130 V4273 Q130,4267 136,4267Z" fill="#19a6ec"/>
<polygon points="112,4281 131,4287 131,4306" fill="#19a6ec"/>
<text x="142" y="4302" font-size="27" font-weight="bold" fill="#fff" textLength="241" lengthAdjust="spacingAndGlyphs">怎么计算门的重量?</text>
<g fill="#111"><circle cx="148" cy="4353" r="6.5"/><circle cx="148" cy="4434" r="6.5"/><circle cx="148" cy="4512" r="6.5"/></g>
<g font-size="25.5" fill="#2a2a2a">
 <text x="167" y="4360" textLength="460" lengthAdjust="spacingAndGlyphs">选型主要依据门宽，门重，并结合实际情</text>
 <text x="167" y="4396" textLength="460" lengthAdjust="spacingAndGlyphs">况，选型不当会影响使用效果及产品寿命</text>
 <text x="167" y="4442" textLength="460" lengthAdjust="spacingAndGlyphs">玻璃门重（kg）=玻璃面积（m²）X玻璃</text>
 <text x="167" y="4474" textLength="293" lengthAdjust="spacingAndGlyphs">厚度（mm）X2.56（密度）</text>
 <text x="167" y="4520" textLength="466" lengthAdjust="spacingAndGlyphs">整扇门重（kg）=玻璃门重/型材门重+所有配</text>
 <text x="167" y="4551" textLength="69" lengthAdjust="spacingAndGlyphs">件重量</text>
</g>

<g transform="translate(59,3688)">
 <ellipse rx="39" ry="39" fill="url(#face)"/>
 <path d="M-19,5 Q-21,-31 1,-31 Q22,-31 20,5Z" fill="#2a2a2a"/>
 <path d="M-32,3 Q0,12 31,5 Q30,11 0,14 Q-28,12 -32,3Z" fill="#2a2a2a"/>
 <path d="M-7,27 H7 L6,36 H-6Z" fill="#2a2a2a"/>
</g>
<g transform="translate(59,3860)">
 <ellipse rx="39" ry="39" fill="url(#face)"/>
 <path d="M-19,5 Q-21,-31 1,-31 Q22,-31 20,5Z" fill="#2a2a2a"/>
 <path d="M-32,3 Q0,12 31,5 Q30,11 0,14 Q-28,12 -32,3Z" fill="#2a2a2a"/>
 <path d="M-7,27 H7 L6,36 H-6Z" fill="#2a2a2a"/>
</g>
<g transform="translate(57,4000)">
 <ellipse rx="39" ry="39" fill="url(#face)"/>
 <path d="M-19,5 Q-21,-31 1,-31 Q22,-31 20,5Z" fill="#2a2a2a"/>
 <path d="M-32,3 Q0,12 31,5 Q30,11 0,14 Q-28,12 -32,3Z" fill="#2a2a2a"/>
 <path d="M-7,27 H7 L6,36 H-6Z" fill="#2a2a2a"/>
</g>
<g transform="translate(57,4291)">
 <ellipse rx="39" ry="39" fill="url(#face)"/>
 <path d="M-19,5 Q-21,-31 1,-31 Q22,-31 20,5Z" fill="#2a2a2a"/>
 <path d="M-32,3 Q0,12 31,5 Q30,11 0,14 Q-28,12 -32,3Z" fill="#2a2a2a"/>
 <path d="M-7,27 H7 L6,36 H-6Z" fill="#2a2a2a"/>
</g>

<g transform="translate(718,3750)">
 <polygon points="-37,-5 -37,8 -58,14" fill="#fff"/>
 <circle r="39" fill="#fff"/>
 <text y="-5" text-anchor="middle" font-size="22" font-weight="bold" fill="#1b55a8" textLength="44" lengthAdjust="spacingAndGlyphs">坚朗</text>
 <text y="18" text-anchor="middle" font-size="19" font-weight="bold" fill="#1b55a8" textLength="65" lengthAdjust="spacingAndGlyphs">KIN LONG</text>
</g>
<g transform="translate(720,3928)">
 <polygon points="-37,-5 -37,8 -58,14" fill="#fff"/>
 <circle r="39" fill="#fff"/>
 <text y="-5" text-anchor="middle" font-size="22" font-weight="bold" fill="#1b55a8" textLength="44" lengthAdjust="spacingAndGlyphs">坚朗</text>
 <text y="18" text-anchor="middle" font-size="19" font-weight="bold" fill="#1b55a8" textLength="65" lengthAdjust="spacingAndGlyphs">KIN LONG</text>
</g>
<g transform="translate(720,4068)">
 <polygon points="-37,-5 -37,8 -58,14" fill="#fff"/>
 <circle r="39" fill="#fff"/>
 <text y="-5" text-anchor="middle" font-size="22" font-weight="bold" fill="#1b55a8" textLength="44" lengthAdjust="spacingAndGlyphs">坚朗</text>
 <text y="18" text-anchor="middle" font-size="19" font-weight="bold" fill="#1b55a8" textLength="65" lengthAdjust="spacingAndGlyphs">KIN LONG</text>
</g>
<g transform="translate(720,4355)">
 <polygon points="-37,-5 -37,8 -58,14" fill="#fff"/>
 <circle r="39" fill="#fff"/>
 <text y="-5" text-anchor="middle" font-size="22" font-weight="bold" fill="#1b55a8" textLength="44" lengthAdjust="spacingAndGlyphs">坚朗</text>
 <text y="18" text-anchor="middle" font-size="19" font-weight="bold" fill="#1b55a8" textLength="65" lengthAdjust="spacingAndGlyphs">KIN LONG</text>
</g>
<line x1="0" y1="4586" x2="780" y2="4586" stroke="#d6e9f5" stroke-width="1"/>
</svg>
</body></html>
